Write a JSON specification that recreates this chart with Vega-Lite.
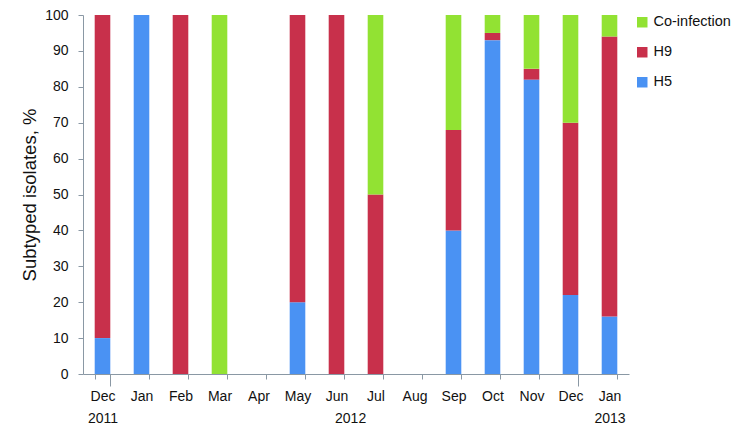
{
  "$schema": "https://vega.github.io/schema/vega-lite/v6.json",
  "autosize": {"type": "none"},
  "padding": {"left": 83, "top": 15, "right": 121, "bottom": 72},
  "width": 546,
  "height": 359,
  "background": "white",
  "config": {"view": {"stroke": null}, "font": "Liberation Sans"},
  "data": {
    "values": [
      {"m": "Dec 2011", "s": "H5", "v": 10, "o": 1},
      {"m": "Dec 2011", "s": "H9", "v": 90, "o": 2},
      {"m": "Jan 2012", "s": "H5", "v": 100, "o": 1},
      {"m": "Feb 2012", "s": "H9", "v": 100, "o": 2},
      {"m": "Mar 2012", "s": "Co-infection", "v": 100, "o": 3},
      {"m": "Apr 2012", "s": "H5", "v": 0, "o": 1},
      {"m": "May 2012", "s": "H5", "v": 20, "o": 1},
      {"m": "May 2012", "s": "H9", "v": 80, "o": 2},
      {"m": "Jun 2012", "s": "H9", "v": 100, "o": 2},
      {"m": "Jul 2012", "s": "H9", "v": 50, "o": 2},
      {"m": "Jul 2012", "s": "Co-infection", "v": 50, "o": 3},
      {"m": "Aug 2012", "s": "H5", "v": 0, "o": 1},
      {"m": "Sep 2012", "s": "H5", "v": 40, "o": 1},
      {"m": "Sep 2012", "s": "H9", "v": 28, "o": 2},
      {"m": "Sep 2012", "s": "Co-infection", "v": 32, "o": 3},
      {"m": "Oct 2012", "s": "H5", "v": 93, "o": 1},
      {"m": "Oct 2012", "s": "H9", "v": 2, "o": 2},
      {"m": "Oct 2012", "s": "Co-infection", "v": 5, "o": 3},
      {"m": "Nov 2012", "s": "H5", "v": 82, "o": 1},
      {"m": "Nov 2012", "s": "H9", "v": 3, "o": 2},
      {"m": "Nov 2012", "s": "Co-infection", "v": 15, "o": 3},
      {"m": "Dec 2012", "s": "H5", "v": 22, "o": 1},
      {"m": "Dec 2012", "s": "H9", "v": 48, "o": 2},
      {"m": "Dec 2012", "s": "Co-infection", "v": 30, "o": 3},
      {"m": "Jan 2013", "s": "H5", "v": 16, "o": 1},
      {"m": "Jan 2013", "s": "H9", "v": 78, "o": 2},
      {"m": "Jan 2013", "s": "Co-infection", "v": 6, "o": 3}
    ]
  },
  "mark": {"type": "bar"},
  "encoding": {
    "x": {
      "field": "m",
      "type": "nominal",
      "sort": null,
      "scale": {"paddingInner": 0.6, "paddingOuter": 0.3},
      "axis": {
        "title": null,
        "labelAngle": 0,
        "labelFontSize": 14,
        "labelColor": "#111",
        "labelPadding": {"expr": "datum.value == 'Dec 2011' || datum.value == 'Dec 2012' ? 3 : 10"},
        "labelLineHeight": 22,
        "labelExpr": "!isValid(datum.value) ? '' : datum.value == 'Dec 2011' ? ['Dec', '2011'] : datum.value == 'Jun 2012' ? ['Jun', '\u200b\u00a0\u00a0\u00a0\u00a0\u00a0\u00a0\u00a02012'] : datum.value == 'Jan 2013' ? ['Jan', '2013'] : substring(datum.value, 0, 3)",
        "tickBand": "extent",
        "tickSize": {"condition": {"test": "datum.value == 'Dec 2011' || datum.value == 'Dec 2012'", "value": 12}, "value": 5},
        "tickColor": "#8a98a4",
        "domainColor": "#8a98a4"
      }
    },
    "y": {
      "field": "v",
      "type": "quantitative",
      "stack": "zero",
      "scale": {"domain": [0, 100]},
      "axis": {
        "title": "Subtyped isolates, %",
        "titleFontSize": 18.5,
        "titleFontWeight": "normal",
        "titleColor": "#111",
        "titlePadding": 5,
        "values": [0, 10, 20, 30, 40, 50, 60, 70, 80, 90, 100],
        "grid": false,
        "labelFontSize": 14,
        "labelColor": "#111",
        "labelPadding": 10,
        "tickSize": 5,
        "tickColor": "#8a98a4",
        "domainColor": "#8a98a4"
      }
    },
    "color": {
      "field": "s",
      "type": "nominal",
      "scale": {"domain": ["Co-infection", "H9", "H5"], "range": ["#92e233", "#c8304b", "#4a92f3"]},
      "legend": {
        "title": null,
        "orient": "right",
        "offset": 6,
        "symbolType": "square",
        "symbolSize": 110,
        "symbolStrokeWidth": 0,
        "labelFontSize": 14.5,
        "labelColor": "#111",
        "rowPadding": 15,
        "padding": 0
      }
    },
    "order": {"field": "o", "type": "quantitative"}
  }
}
